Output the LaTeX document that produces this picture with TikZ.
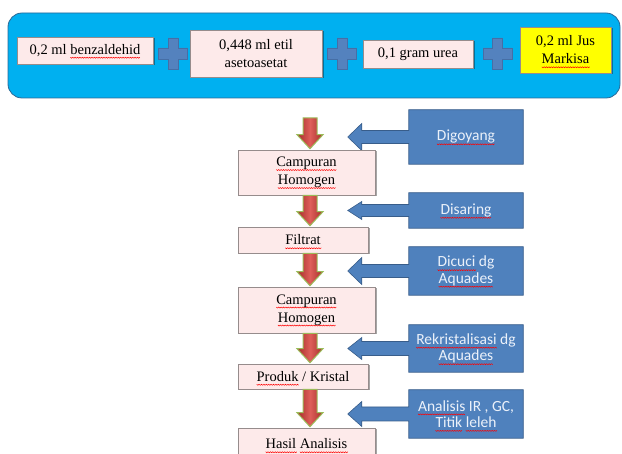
\documentclass[tikz,border=0pt]{standalone}
\usepackage{fontspec}
\setmainfont{Liberation Serif}
\newfontfamily\calib{Carlito}
\usetikzlibrary{calc,shadows,backgrounds}
\newcount\wvi
\newcount\wvn
\newdimen\wvx
\newcommand\wavepic{%
  \pgfpicture
    \pgfsetstrokecolor{red}\pgfsetlinewidth{0.5pt}%
    \wvx=0pt \wvi=0
    \pgfpathmoveto{\pgfpoint{0pt}{-2.8pt}}%
    \loop
      \advance\wvi by 1
      \advance\wvx by 1.2pt
      \ifodd\wvi \def\yy{-3.8pt}\else\def\yy{-2.8pt}\fi
      \pgfpathlineto{\pgfpoint{\wvx}{\yy}}%
    \ifnum\wvi<\wvn\repeat
    \pgfusepath{stroke}%
    \pgfresetboundingbox
    \pgfpathmoveto{\pgfpoint{0pt}{0pt}}\pgfusepath{use as bounding box}%
  \endpgfpicture}
\newcommand\sq[1]{\setbox0\hbox{#1}%
  \wvn=\numexpr\dimexpr\wd0\relax/\dimexpr1.2pt\relax\relax
  \leavevmode\rlap{\wavepic}\box0 }
\definecolor{panelfill}{RGB}{0,176,240}
\definecolor{panelline}{RGB}{45,105,150}
\definecolor{pinkfill}{RGB}{253,234,234}
\definecolor{boxline}{RGB}{150,140,140}
\definecolor{calfill}{RGB}{79,129,189}
\definecolor{calline}{RGB}{56,93,138}
\definecolor{caltext}{RGB}{235,241,250}
\definecolor{plusfill}{RGB}{84,130,190}
\definecolor{plusline}{RGB}{70,110,165}
\definecolor{rdark}{RGB}{165,45,40}
\definecolor{rlight}{RGB}{222,95,90}
\definecolor{olive}{RGB}{155,187,89}
\definecolor{yel}{RGB}{255,255,0}
\newcommand\callout[3]{%
  \path[callst] (#1.north east) -- (#1.north west) -- ($(#1.west)+(0,-#2)$)
    -- ($(#1.west)+(-47,-#2)$) -- ($(#1.west)+(-47,-#3)$) -- ($(#1.west)+(-61,0)$)
    -- ($(#1.west)+(-47,#3)$) -- ($(#1.west)+(-47,#2)$) -- ($(#1.west)+(0,#2)$)
    -- (#1.south west) -- (#1.south east) -- cycle;}
\newcommand\downarr[2]{%
  \path[redarr] let \p1=(#1), \p2=($(#2)+(0,-1)$) in
    (303pt,\y1) -- (317pt,\y1) -- (317pt,\y2+14pt) -- (323pt,\y2+14pt)
    -- (310pt,\y2) -- (297pt,\y2+14pt) -- (303pt,\y2+14pt) -- cycle;}
\newcommand\plussign[1]{%
  \path[plusst] ($(#1)+(-5,-15.5)$) -- ($(#1)+(5,-15.5)$) -- ($(#1)+(5,-5.5)$)
    -- ($(#1)+(14.5,-5.5)$) -- ($(#1)+(14.5,5.5)$) -- ($(#1)+(5,5.5)$)
    -- ($(#1)+(5,15.5)$) -- ($(#1)+(-5,15.5)$) -- ($(#1)+(-5,5.5)$)
    -- ($(#1)+(-14.5,5.5)$) -- ($(#1)+(-14.5,-5.5)$) -- ($(#1)+(-5,-5.5)$) -- cycle;}
\begin{document}
\begin{tikzpicture}[x=1pt,y=-1pt,
  panel/.style={draw=panelline, line width=0.8pt, fill=panelfill, rounded corners=14pt,
    minimum width=612pt, minimum height=85pt, inner sep=0pt},
  flowbox/.style={draw=boxline, line width=0.6pt, fill=pinkfill,
    drop shadow={shadow xshift=1.5pt, shadow yshift=-1.5pt, fill=black, opacity=0.35},
    font=\fontsize{14.5}{18}\selectfont, align=center, inner sep=0pt},
  topbox/.style={flowbox},
  sidebox/.style={text=caltext, font=\calib\fontsize{15.5}{16.5}\selectfont,
    align=center, inner sep=0pt, minimum width=114pt},
  callst/.style={fill=calfill, draw=calline, line width=0.6pt},
  redarr/.style={shading=axis, left color=rdark, right color=rdark, middle color=rlight,
    draw=olive, line width=1pt},
  plusst/.style={fill=plusfill, draw=plusline, line width=0.6pt}]
\useasboundingbox (0,0) rectangle (622,454);
\clip (0,0) rectangle (622,454);
% top panel
\node[panel] (panel) at (314,55.5) {};
\node[topbox, minimum width=136pt, minimum height=27pt] (t1) at (85,50.5) {0,2 ml \sq{benzaldehid}};
\node[topbox, minimum width=132pt, minimum height=47pt] (t2) at (256,53.5) {0,448 ml etil\\asetoasetat};
\node[topbox, minimum width=110pt, minimum height=28pt] (t3) at (418,54) {0,1 gram urea};
\node[topbox, fill=yel, minimum width=91pt, minimum height=46pt] (t4) at (565.5,50) {0,2 ml Jus\\\sq{Markisa}};
\coordinate (pl1) at (173,53.5);
\coordinate (pl2) at (342,53.5);
\coordinate (pl3) at (497.5,53.5);
\plussign{pl1}
\plussign{pl2}
\plussign{pl3}
% flow column
\coordinate (start) at (310,118);
\node[flowbox, minimum width=137pt, minimum height=45pt] (c1) at (306.5,172.5) {\sq{Campuran}\\\sq{Homogen}};
\node[flowbox, minimum width=130pt, minimum height=26pt] (f) at (303,240) {\sq{Filtrat}};
\node[flowbox, minimum width=137pt, minimum height=46pt] (c2) at (306.5,310) {\sq{Campuran}\\\sq{Homogen}};
\node[flowbox, minimum width=130pt, minimum height=25pt] (p) at (303,376.5) {\sq{Produk} / Kristal};
\node[flowbox, minimum width=137pt, minimum height=32pt] (h) at (306.5,444) {\sq{Hasil} \sq{Analisis}};
\downarr{start}{c1.north}
\downarr{c1.south}{f.north}
\downarr{f.south}{c2.north}
\downarr{c2.south}{p.north}
\downarr{p.south}{h.north}
% side callouts
\node[sidebox, minimum height=54pt] (b1) at (466,137) {\sq{Digoyang}};
\node[sidebox, minimum height=35pt] (b2) at (466,210.5) {\sq{Disaring}};
\node[sidebox, minimum height=48pt] (b3) at (466,271) {\sq{Dicuci} dg\\\sq{Aquades}};
\node[sidebox, minimum height=47pt] (b4) at (466,348.5) {\sq{Rekristalisasi} dg\\\sq{Aquades}};
\node[sidebox, minimum height=48pt] (b5) at (466,414) {\sq{Analisis} IR , GC,\\\sq{Titik} \sq{leleh}};
\begin{scope}[on background layer]
\callout{b1}{6.5}{13.5}
\callout{b2}{6}{9}
\callout{b3}{6.5}{13.5}
\callout{b4}{7}{11}
\callout{b5}{7}{12.5}
\end{scope}
\end{tikzpicture}
\end{document}
